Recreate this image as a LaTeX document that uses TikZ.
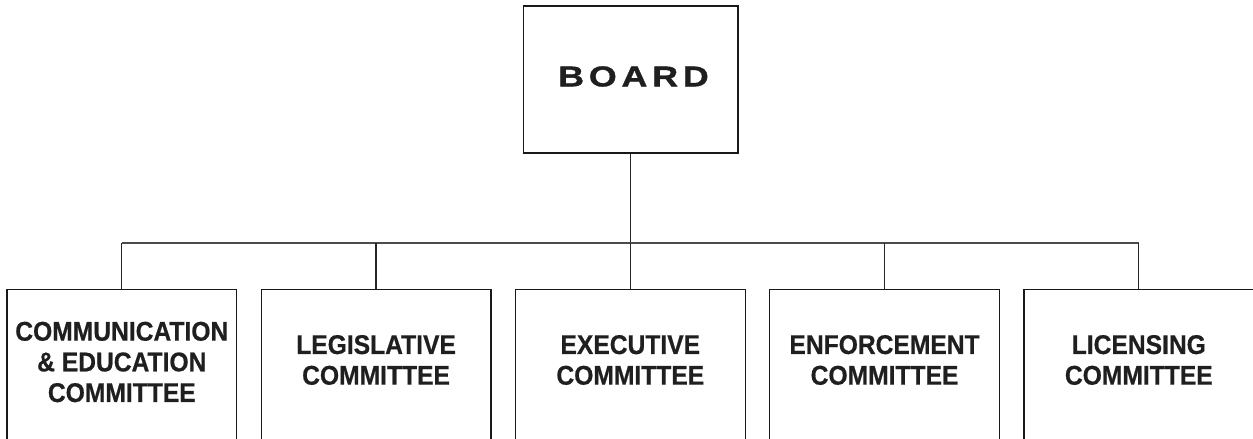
\documentclass[tikz,border=0pt]{standalone}
\usepackage{fontspec}
\setmainfont{Liberation Sans}
\newfontfamily\cfont{Liberation Sans}[FakeStretch=0.91,FakeBold=0.6]
\newfontfamily\bdfont{Liberation Sans}[FakeStretch=1.25,FakeBold=1.2]
\begin{document}
\begin{tikzpicture}[x=0.75pt,y=-0.75pt,
  boardbox/.style={draw=black!90, line width=0.9pt, minimum width=160.9pt, minimum height=110.25pt, inner sep=0pt},
  cbox/.style={draw=black!90, line width=0.9pt, anchor=north, minimum width=172.3pt, minimum height=150pt, inner sep=0pt},
  ctext/.style={font=\cfont\bfseries\fontsize{20.3pt}{23pt}\selectfont, align=center, text=black!88, inner sep=0pt},
  conn/.style={line width=0.9pt, draw=black!85},
  busline/.style={line width=1.4pt, draw=black!70}]
\useasboundingbox (0,0) rectangle (1253,439);
\begin{scope}
\clip (0,0) rectangle (1253,439);
\node[boardbox] (board) at (630.75,79.5) {};
\node[font=\bdfont\bfseries\fontsize{21.5pt}{24pt}\selectfont, text=black!88, inner sep=0pt] (boardtxt) at (633.5,76.5) {B\kern3.6ptO\kern3.6ptA\kern3.6ptR\kern3.6ptD};
\coordinate (bus) at (630.3,243);
\node[cbox] (c1) at (121.8,289) {};
\node[cbox] (c2) at (376.05,289) {};
\node[cbox] (c3) at (630.3,289) {};
\node[cbox] (c4) at (884.55,289) {};
\node[cbox] (c5) at (1138.8,289) {};
\node[ctext] (t1) at (121.8,362) {COMMUNICATION\\\&\ EDUCATION\\COMMITTEE};
\node[ctext] (t2) at (376.05,360) {LEGISLATIVE\\COMMITTEE};
\node[ctext] (t3) at (630.3,360) {EXECUTIVE\\COMMITTEE};
\node[ctext] (t4) at (884.55,360) {ENFORCEMENT\\COMMITTEE};
\node[ctext] (t5) at (1138.8,360) {LICENSING\\COMMITTEE};
\draw[conn] (board.south -| bus) -- (bus);
\draw[busline] (c1.north |- bus) -- (c5.north |- bus);
\draw[conn] (c1.north |- bus) -- (c1.north);
\draw[conn] (c2.north |- bus) -- (c2.north);
\draw[conn] (c3.north |- bus) -- (c3.north);
\draw[conn] (c4.north |- bus) -- (c4.north);
\draw[conn] (c5.north |- bus) -- (c5.north);
\end{scope}
\end{tikzpicture}
\end{document}
